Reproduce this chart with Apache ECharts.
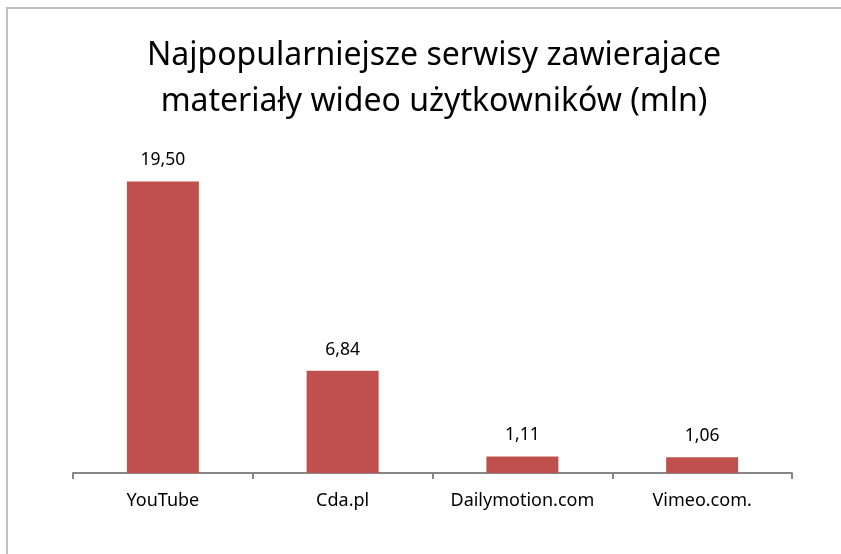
<!DOCTYPE html>
<html>
<head>
<meta charset="utf-8">
<script src="https://cdn.jsdelivr.net/npm/echarts@6/dist/echarts.min.js"></script>
<style>
  html, body { margin: 0; padding: 0; background: #fff; }
  #main { width: 841px; height: 554px; }
</style>
</head>
<body>
<div id="main"></div>
<script>
    var titleText = 'Najpopularniejsze serwisy zawierajace\nmateriały wideo użytkowników (mln)';
    var categories = ['YouTube', 'Cda.pl', 'Dailymotion.com', 'Vimeo.com.'];
    var users = [19.50, 6.84, 1.11, 1.06];

    var chartDom = document.getElementById('main');
    var myChart = echarts.init(chartDom);
    var font = 'Noto Sans';

    var option = {
        animation: false,
        backgroundColor: '#fff',
        title: {
            text: titleText,
            left: 429,
            textAlign: 'center',
            top: 28,
            textStyle: {
                fontFamily: font,
                fontSize: 32,
                fontWeight: 'normal',
                color: '#000',
                lineHeight: 46
            }
        },
        graphic: [{
            type: 'rect',
            shape: { x: 7, y: 8, width: 900, height: 600 },
            style: { fill: 'none', stroke: '#bfbfbf', lineWidth: 2 },
            silent: true
        }],
        grid: { left: 73, right: 49, top: 174, bottom: 81 },
        xAxis: {
            type: 'category',
            data: categories,
            axisLine: { lineStyle: { color: '#868686', width: 2 } },
            axisTick: { show: true, interval: 0, length: 6, lineStyle: { color: '#868686', width: 2 } },
            axisLabel: { interval: 0, fontFamily: font, fontSize: 18, color: '#000', margin: 19 }
        },
        yAxis: {
            type: 'value',
            min: 0,
            max: 20,
            show: false
        },
        series: [{
            type: 'bar',
            data: users,
            barWidth: 72,
            itemStyle: { color: '#C0504D' },
            label: {
                show: true,
                position: 'top',
                distance: 12,
                fontFamily: font,
                fontSize: 17.5,
                color: '#000',
                formatter: function (p) {
                    return p.value.toFixed(2).replace('.', ',');
                }
            }
        }]
    };
    myChart.setOption(option);
</script>
</body>
</html>
